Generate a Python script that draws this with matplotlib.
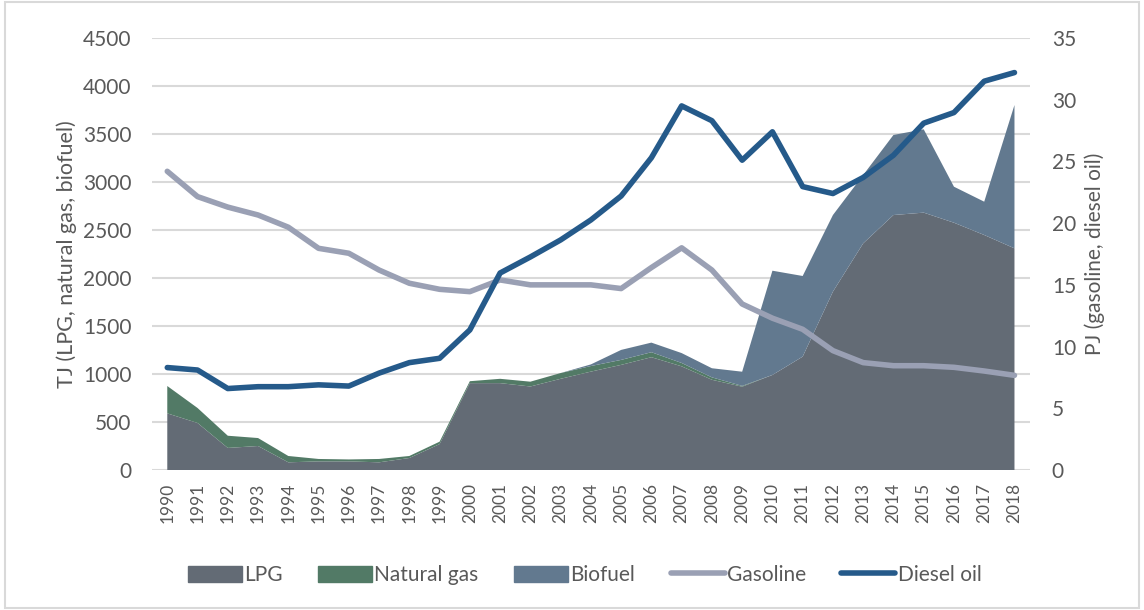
import matplotlib
matplotlib.use("Agg")
import matplotlib.pyplot as plt
from matplotlib.patches import Patch, Rectangle
from matplotlib.lines import Line2D
import numpy as np

years = list(range(1990, 2019))
lpg = [590, 490, 230, 250, 80, 90, 90, 80, 125, 270, 905, 905, 870, 950, 1025, 1095, 1175, 1080,
       940, 868, 990, 1181, 1858, 2361, 2656, 2681, 2576, 2448, 2309]
natural_gas = [285, 156, 127, 83, 66, 25, 20, 35, 21, 25, 20, 45, 50, 60, 58, 52, 52, 35,
               25, 8, 0, 0, 0, 0, 0, 0, 0, 0, 0]
biofuel = [0, 0, 0, 0, 0, 0, 0, 0, 0, 0, 0, 0, 0, 0, 17, 104, 100, 103,
           95, 148, 1086, 840, 798, 712, 834, 868, 375, 347, 1493]
gasoline = [24.2, 22.15, 21.3, 20.66, 19.67, 17.96, 17.56, 16.2, 15.13, 14.64, 14.45, 15.4, 15.0, 15.0, 15.0, 14.7,
            16.4, 18.0, 16.2, 13.45, 12.3, 11.4, 9.67, 8.7, 8.45, 8.45, 8.32, 8.02, 7.67]
diesel = [8.3, 8.1, 6.6, 6.75, 6.75, 6.9, 6.8, 7.85, 8.7, 9.05, 11.35, 15.96, 17.26, 18.64, 20.26, 22.2,
          25.3, 29.5, 28.3, 25.1, 27.4, 22.96, 22.4, 23.7, 25.5, 28.1, 28.96, 31.5, 32.2]

left_ticks = [0, 500, 1000, 1500, 2000, 2500, 3000, 3500, 4000, 4500]
right_ticks = [0, 5, 10, 15, 20, 25, 30, 35]

c_lpg = "#636b75"
c_ng = "#527a66"
c_bio = "#62798f"
c_gas = "#9aa0b4"
c_die = "#255a8a"
txt = "#595959"

plt.rcParams['font.family'] = ['Lato', 'DejaVu Sans']

fig = plt.figure(figsize=(11.44, 6.10), dpi=100)
ax = fig.add_axes([0.133, 0.2295, 0.767, 0.7082])
ax2 = ax.twinx()

ax.stackplot(years, lpg, natural_gas, biofuel, colors=[c_lpg, c_ng, c_bio], linewidth=0, zorder=2)
ax.set_ylim(0, 4500)
ax.set_yticks(left_ticks)
ax.set_xlim(1989.5, 2018.5)
ax.set_xticks(years)
ax.set_xticklabels([str(y) for y in years], rotation=90, fontsize=12.5, color=txt)
ax.tick_params(axis='y', labelsize=15, colors=txt, length=0, pad=15)
ax.tick_params(axis='x', length=0, pad=9)
ax.yaxis.grid(True, color="#d9d9d9", linewidth=1.5, zorder=0)
ax.set_axisbelow(True)
for s in ax.spines.values():
    s.set_visible(False)
for s in ax2.spines.values():
    s.set_visible(False)
ax.set_ylabel("TJ (LPG, natural gas, biofuel)", fontsize=15.5, color=txt, labelpad=4)

ax2.plot(years, gasoline, color=c_gas, linewidth=4, solid_capstyle='round', zorder=3)
ax2.plot(years, diesel, color=c_die, linewidth=4, solid_capstyle='round', zorder=4)
ax2.set_ylim(0, 35)
ax2.set_yticks(right_ticks)
ax2.tick_params(axis='y', labelsize=15, colors=txt, length=0, pad=16)
ax2.set_ylabel("PJ (gasoline, diesel oil)", fontsize=15, color=txt, labelpad=6)

handles = [Patch(color=c_lpg), Patch(color=c_ng), Patch(color=c_bio),
           Line2D([], [], color=c_gas, linewidth=4, solid_capstyle='round'),
           Line2D([], [], color=c_die, linewidth=4, solid_capstyle='round')]
labels = ["LPG", "Natural gas", "Biofuel", "Gasoline", "Diesel oil"]
fig.legend(handles, labels, loc='center', bbox_to_anchor=(0.511, 0.057), ncol=5, frameon=False,
           fontsize=15, labelcolor=txt, handlelength=2.6, handleheight=0.85, handletextpad=0.1,
           columnspacing=1.7)

fig.patches.append(Rectangle((0.004, 0.004), 0.992, 0.992, transform=fig.transFigure,
                             fill=False, edgecolor="#d9d9d9", linewidth=1.5))

fig.savefig("out.png", dpi=100)
